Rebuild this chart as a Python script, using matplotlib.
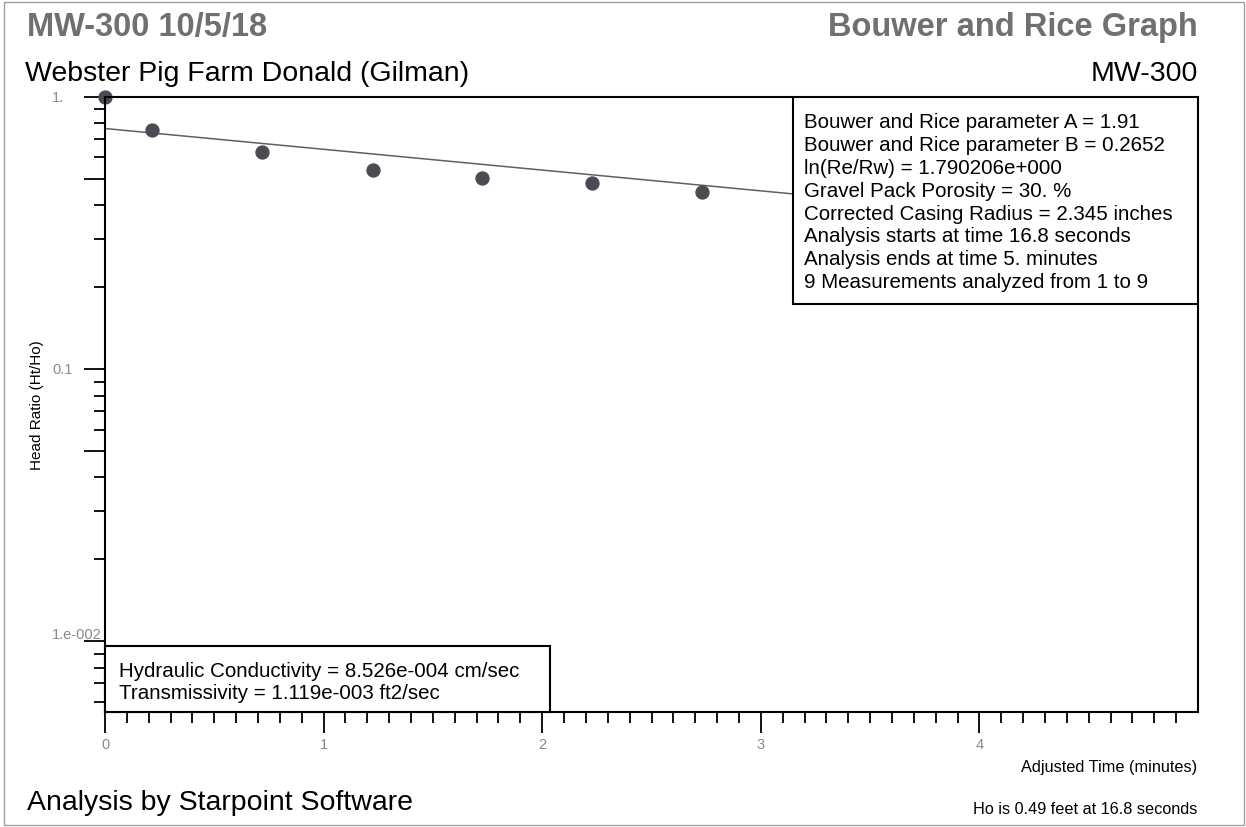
import matplotlib.pyplot as plt
import matplotlib.transforms as mtransforms
from matplotlib.patches import Rectangle
from matplotlib.ticker import FixedLocator, NullFormatter

plt.rcParams['font.family'] = ['Liberation Sans', 'DejaVu Sans']

# measured head ratios (visible points)
time_min = [0.0, 0.217, 0.719, 1.226, 1.724, 2.23, 2.73]
head_ratio = [1.0, 0.755, 0.626, 0.541, 0.505, 0.484, 0.449]

# Bouwer and Rice fitted line (end points)
fit_time = [0.0, 5.0]
fit_ratio = [0.766, 0.318]

y_ticks = [1.0, 0.1, 0.01]
y_tick_labels = ['1.', '0.1', '1.e-002']
y_half_ticks = [0.5, 0.05, 0.005]
x_ticks = [0, 1, 2, 3, 4]
x_tick_labels = ['0', '1', '2', '3', '4']

params_text = ["Bouwer and Rice parameter A = 1.91",
               "Bouwer and Rice parameter B = 0.2652",
               "ln(Re/Rw) = 1.790206e+000",
               "Gravel Pack Porosity = 30. %",
               "Corrected Casing Radius = 2.345 inches",
               "Analysis starts at time 16.8 seconds",
               "Analysis ends at time 5. minutes",
               "9 Measurements analyzed from 1 to 9"]
results_text = ["Hydraulic Conductivity = 8.526e-004 cm/sec",
                "Transmissivity = 1.119e-003 ft2/sec"]

W, H = 1246, 828
fig = plt.figure(figsize=(W / 100, H / 100), dpi=100)


def fx(px):
    return px / W


def fy(py):
    return 1 - py / H


ax = fig.add_axes([fx(105), fy(713), fx(1198) - fx(105), fy(98) - fy(713)])
ax.set_yscale('log')
ax.set_xlim(0, 5)
ax.set_ylim(0.0055, 1.0)

ax.plot(fit_time, fit_ratio, color='#606060', lw=1.1, zorder=2)
ax.plot(time_min, head_ratio, 'o', color='#4a4b53', ms=9.3, zorder=2,
        clip_on=False)

# ticks
ax.set_xticks(x_ticks)
ax.set_xticklabels(x_tick_labels)
ax.xaxis.set_minor_locator(FixedLocator([i / 10 for i in range(1, 50)]))
ax.yaxis.set_major_locator(FixedLocator(y_ticks + y_half_ticks))
ax.yaxis.set_major_formatter(NullFormatter())
minor_y = [m * 10.0 ** e for e in (-3, -2, -1) for m in range(2, 10)
           if m != 5]
ax.yaxis.set_minor_locator(FixedLocator(minor_y))
ax.yaxis.set_minor_formatter(NullFormatter())
ax.tick_params(axis='both', which='major', direction='out', length=15,
               width=1.3, color='black', labelcolor='#8a8a8a', labelsize=10.5)
ax.tick_params(axis='both', which='minor', direction='out', length=8,
               width=1.3, color='black')
ax.tick_params(axis='x', which='major', pad=3)
for s in ax.spines.values():
    s.set_linewidth(1.5)

# y tick labels: left aligned near the page edge
ylab_tr = mtransforms.blended_transform_factory(fig.transFigure, ax.transData)
for yv, lbl in zip(y_ticks, y_tick_labels):
    ax.text(fx(52), yv, lbl, transform=ylab_tr, fontsize=10.5,
            color='#8a8a8a', ha='left',
            va='bottom' if yv == min(y_ticks) else 'center', clip_on=False)

ax.set_ylabel('Head Ratio (Ht/Ho)', fontsize=11)
ax.yaxis.set_label_coords((44 - 105) / 1093, 0.5)

# parameter box (upper right)
ax.add_patch(Rectangle((0.6295, 0.663), 0.3705, 0.337, transform=ax.transAxes,
                       facecolor='white', edgecolor='black', lw=1.5,
                       zorder=3))
for i, line in enumerate(params_text):
    fig.text(fx(804), fy(128 + i * 22.9), line, fontsize=14.8, zorder=4,
             va='baseline')

# results box (lower left)
ax.add_patch(Rectangle((0.0, 0.0), 0.407, 0.107, transform=ax.transAxes,
                       facecolor='white', edgecolor='black', lw=1.5,
                       zorder=3, clip_on=False))
for i, line in enumerate(results_text):
    fig.text(fx(119), fy(677 + i * 22), line, fontsize=14.8, zorder=4,
             va='baseline')

# headers and footers
fig.text(fx(27), fy(36), 'MW-300 10/5/18', fontsize=23.5, fontweight='bold',
         color='#707070', va='baseline')
fig.text(fx(25), fy(81), 'Webster Pig Farm Donald (Gilman)', fontsize=20.5,
         va='baseline')
fig.text(fx(1198), fy(36), 'Bouwer and Rice Graph', fontsize=23.5,
         fontweight='bold', color='#707070', ha='right', va='baseline')
fig.text(fx(1198), fy(81), 'MW-300', fontsize=20.5, ha='right', va='baseline')
fig.text(fx(1197), fy(772), 'Adjusted Time (minutes)', fontsize=11.7,
         ha='right', va='baseline')
fig.text(fx(1197), fy(814), 'Ho is 0.49 feet at 16.8 seconds', fontsize=11.7,
         ha='right', va='baseline')
fig.text(fx(27), fy(810), 'Analysis by Starpoint Software', fontsize=20.5,
         va='baseline')

# page border
fig.patches.append(Rectangle((fx(4), fy(826)), fx(1244) - fx(4),
                             fy(3) - fy(826), transform=fig.transFigure,
                             fill=False, edgecolor='#a0a0a0', lw=1))

fig.savefig('out.png', dpi=100)
